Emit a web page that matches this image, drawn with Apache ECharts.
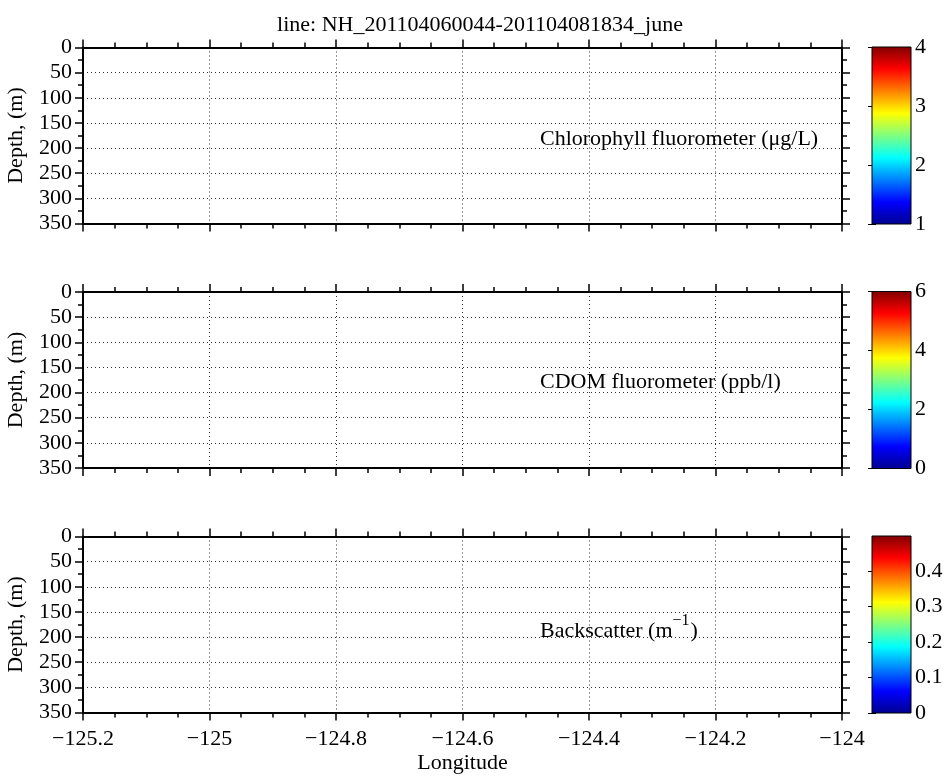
<!DOCTYPE html>
<html>
<head>
<meta charset="utf-8">
<script src="https://cdn.jsdelivr.net/npm/echarts@6/dist/echarts.min.js"></script>
<style>
html,body{margin:0;padding:0;background:#fff;}
#chart{width:950px;height:778px;}
</style>
</head>
<body>
<div id="chart"></div>
<script>
// ---- data ----
const titleText = 'line: NH_201104060044-201104081834_june';
const lonRange = [-125.2, -124];
const lonInterval = 0.2;
const depthRange = [0, 350];
const depthInterval = 50;
const panelNames = ['Chlorophyll fluorometer (μg/L)', 'CDOM fluorometer (ppb/l)', 'Backscatter (m'];
const panelNameSup = ['', '', '−1'];
const panelNameClose = ['', '', ')'];
const colorbarMin = [1, 0, 0];
const colorbarMax = [4, 6, 0.499];
const colorbarInterval = [1, 2, 0.1];
// empty section data (no measurements shown)
const sectionData = [[], [], []];

// ---- style / layout ----
const FONT = 'Liberation Serif';
const FS = 22;
const panelTops = [47.5, 292, 536.5];
const panelH = 176;
const plotLeft = 83, plotWidth = 759;
const cbLeft = 872, cbWidth = 39;
const textY = [139, 382, 631];
const textX = 540;

const jet = [
  {offset: 0, color: '#00008F'},
  {offset: 0.125, color: '#0000FF'},
  {offset: 0.375, color: '#00FFFF'},
  {offset: 0.625, color: '#FFFF00'},
  {offset: 0.875, color: '#FF0000'},
  {offset: 1, color: '#800000'}
];

const minus = v => String(v).replace('-', '−');
const labelStyle = {color: '#000', fontFamily: FONT, fontSize: FS};

const grid = [], xAxis = [], yAxis = [], series = [];
for (let i = 0; i < 3; i++) {
  grid.push({left: plotLeft, width: plotWidth, top: panelTops[i], height: panelH,
    containLabel: false, outerBoundsMode: 'none'});
  const last = i === 2;
  const xCommon = {
    type: 'value', gridIndex: i, min: lonRange[0], max: lonRange[1], interval: lonInterval,
    axisLine: {show: true, onZero: false, lineStyle: {color: '#000', width: 2}},
    axisTick: {show: true, inside: false, length: 8, lineStyle: {color: '#000', width: 1.5}},
    minorTick: {show: true, splitNumber: 4, length: 5, lineStyle: {color: '#000', width: 1.5}},
    minorSplitLine: {show: false}
  };
  xAxis.push(Object.assign({}, xCommon, {
    position: 'bottom',
    axisLabel: Object.assign({show: last, margin: 16, formatter: minus}, labelStyle),
    splitLine: {show: true, lineStyle: {color: '#333', width: 1, type: [1, 3]}},
    name: last ? 'Longitude' : '',
    nameLocation: 'middle', nameGap: 40,
    nameTextStyle: labelStyle
  }));
  xAxis.push(Object.assign({}, xCommon, {
    position: 'top', axisLabel: {show: false}, splitLine: {show: false}
  }));
  const yCommon = {
    type: 'value', gridIndex: i, min: depthRange[0], max: depthRange[1], interval: depthInterval,
    inverse: true,
    axisLine: {show: true, onZero: false, lineStyle: {color: '#000', width: 2}},
    axisTick: {show: true, inside: false, length: 8, lineStyle: {color: '#000', width: 1.5}},
    minorTick: {show: true, splitNumber: 2, length: 5, lineStyle: {color: '#000', width: 1.5}}
  };
  yAxis.push(Object.assign({}, yCommon, {
    position: 'left',
    axisLabel: Object.assign({margin: 11}, labelStyle),
    splitLine: {show: true, lineStyle: {color: '#333', width: 1, type: [1, 3]}},
    name: 'Depth, (m)', nameLocation: 'middle', nameGap: 56, nameRotate: 90,
    nameTextStyle: labelStyle
  }));
  yAxis.push(Object.assign({}, yCommon, {
    position: 'right', axisLabel: {show: false}, splitLine: {show: false}
  }));
  series.push({type: 'line', xAxisIndex: 2 * i, yAxisIndex: 2 * i, data: sectionData[i], showSymbol: false});
}

// colorbars
for (let i = 0; i < 3; i++) {
  const g = 3 + i;
  grid.push({left: cbLeft, width: cbWidth, top: panelTops[i] - 0.5, height: panelH + 1,
    containLabel: false, outerBoundsMode: 'none'});
  xAxis.push({type: 'value', gridIndex: g, min: 0, max: 1, show: false});
  const yc = {
    type: 'value', gridIndex: g, min: colorbarMin[i], max: colorbarMax[i], interval: colorbarInterval[i],
    axisLine: {show: false},
    axisTick: {show: true, inside: true, length: 4, lineStyle: {color: '#000', width: 1}},
    splitLine: {show: false}
  };
  yAxis.push(Object.assign({}, yc, {
    position: 'right',
    axisLabel: Object.assign({margin: 4, showMaxLabel: i === 2 ? false : true}, labelStyle)
  }));
  yAxis.push(Object.assign({}, yc, {position: 'left', axisLabel: {show: false}}));
  series.push({
    type: 'custom', xAxisIndex: 6 + i, yAxisIndex: 6 + 2 * i, z: 1,
    data: [[0, 1, colorbarMin[i], colorbarMax[i]]],
    renderItem: function (params, api) {
      const a = api.coord([api.value(0), api.value(2)]);
      const b = api.coord([api.value(1), api.value(3)]);
      return {
        type: 'rect',
        shape: {x: a[0], y: b[1], width: b[0] - a[0], height: a[1] - b[1]},
        style: {fill: new echarts.graphic.LinearGradient(0, 1, 0, 0, jet), stroke: '#000', lineWidth: 1}
      };
    }
  });
}

// panel texts
const ctx = document.createElement('canvas').getContext('2d');
ctx.font = FS + 'px "' + FONT + '"';
const graphic = [];
for (let i = 0; i < 3; i++) {
  graphic.push({type: 'text', x: textX, y: textY[i], z: 100,
    style: {text: panelNames[i], fontFamily: FONT, fontSize: FS, fill: '#000', verticalAlign: 'middle'}});
  if (panelNameSup[i]) {
    const w = ctx.measureText(panelNames[i]).width;
    ctx.font = '16px "' + FONT + '"';
    const w2 = ctx.measureText(panelNameSup[i]).width;
    ctx.font = FS + 'px "' + FONT + '"';
    graphic.push({type: 'text', x: textX + w, y: textY[i] - 10, z: 100,
      style: {text: panelNameSup[i], fontFamily: FONT, fontSize: 16, fill: '#000', verticalAlign: 'middle'}});
    graphic.push({type: 'text', x: textX + w + w2 + 1, y: textY[i], z: 100,
      style: {text: panelNameClose[i], fontFamily: FONT, fontSize: FS, fill: '#000', verticalAlign: 'middle'}});
  }
}

const chart = echarts.init(document.getElementById('chart'), null, {renderer: 'canvas'});
chart.setOption({
  backgroundColor: '#fff',
  animation: false,
  title: {text: titleText, left: 475, top: 9, textAlign: 'center',
    textStyle: {fontFamily: FONT, fontSize: FS, fontWeight: 'normal', color: '#000'}},
  grid: grid, xAxis: xAxis, yAxis: yAxis, series: series, graphic: graphic
});
</script>
</body>
</html>
